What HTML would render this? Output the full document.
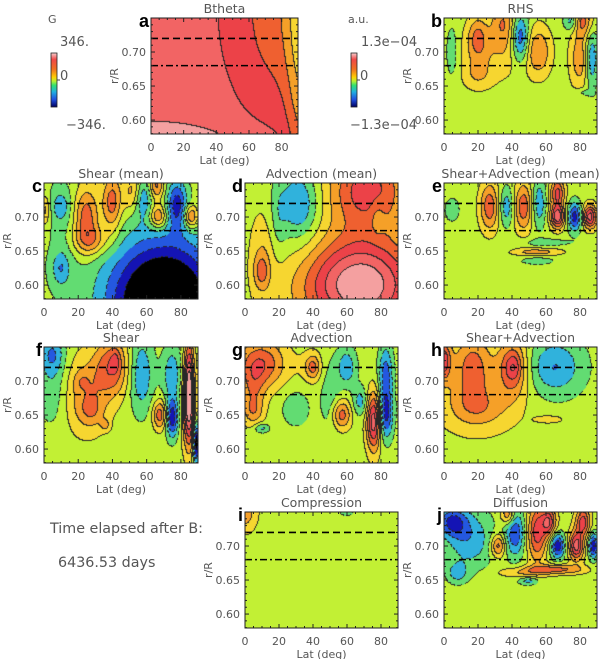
<!DOCTYPE html>
<html><head><meta charset="utf-8">
<style>
html,body{margin:0;padding:0;background:#fff;}
#root{position:relative;width:600px;height:659px;overflow:hidden;font-family:"Liberation Sans",sans-serif;}
canvas{position:absolute;}
svg{position:absolute;left:0;top:0;}
.t{fill:#555;font-size:12.5px;font-family:"DejaVu Sans","Liberation Sans",sans-serif;}
.cbt{fill:#555;font-size:13px;font-family:"DejaVu Sans","Liberation Sans",sans-serif;}
.big{fill:#555;font-size:14.3px;font-family:"DejaVu Sans","Liberation Sans",sans-serif;}
.tk{fill:#555;font-size:11px;font-family:"DejaVu Sans","Liberation Sans",sans-serif;}
.lb{fill:#000;font-size:18px;font-weight:bold;font-family:"Liberation Sans",sans-serif;}
</style></head><body>
<div id="root">
<svg id="ov" width="600" height="659"></svg>
</div>
<script>
// Data: blobs as [lat(deg), r/R, sigmaLat, sigmaR, amplitude(levels)]
const latTicks=[0,20,40,60,80];
const rTicks=[0.60,0.65,0.70];
const rMin=0.5795, rMax=0.75;
const dashedR=0.72, dashDotR=0.68;
const colorLevels=[-5,-4,-3,-2,-1,0,1,2,3,4,5,6];
const levelColors=["#000000","#1414b4","#2458e0","#30b2dc","#62dc72","#c2f034","#f6d630","#f5a028","#ef6030","#ec4248","#f26464","#f4a0a0"];

const bthetaBase=5.2;
const bthetaBlobs=[[0,0.565,40,0.02,1.2],[90,0.76,30,0.12,-2.6],[92,0.70,6,0.2,-2]];
const rhsBlobs=[[5,0.70,3,0.03,-1.3],[30,0.70,16,0.03,1.2],[20,0.72,4,0.022,2.3],[20,0.665,6,0.015,1.2],
 [35,0.745,5,0.025,2.2],[45,0.72,3.5,0.025,-3.7],[56,0.70,5,0.025,2.2],[75,0.745,3,0.01,-2.2],
 [80,0.69,4,0.03,2.2],[82,0.745,4,0.015,2.6],[87,0.69,2.5,0.03,-2.5],[82,0.64,4,0.004,-1]];
const shearMeanBlobs=[[1,0.71,2,0.015,2],[10,0.715,6,0.03,-1.2],[10,0.715,3,0.012,-1.2],[10,0.625,6,0.03,-1.2],[10,0.625,3,0.015,-1.2],
 [25,0.70,5,0.03,3.2],[28,0.665,7,0.015,2.2],[40,0.72,4,0.03,3.2],[53,0.735,4,0.02,3],[66,0.745,3,0.015,3],
 [67,0.70,3.5,0.012,3.4],[86,0.70,3,0.012,3.4],[70,0.575,23,0.065,-7.5],[57,0.73,4,0.02,-3],[78,0.72,4,0.025,-3.5]];
const advMeanBlobs=[[10,0.64,5,0.05,1.3],[10,0.62,3,0.016,1.8],[32,0.71,10,0.05,-1.3],[32,0.72,7,0.03,-1.4],
 [68,0.60,24,0.05,6.5],[72,0.74,16,0.04,4],[78,0.70,3,0.02,-0.9],[20,0.70,3,0.04,-0.8]];
const shadvMeanBlobs=[[5,0.71,3,0.012,-1.3],[27,0.715,4,0.025,3.2],[47,0.715,4,0.025,3.2],[37,0.715,3,0.02,-2.3],
 [56,0.72,3,0.025,-2.4],[67,0.70,3,0.012,5.2],[67,0.735,3,0.015,3.8],[77,0.70,3,0.015,-4],[86,0.70,3,0.012,5],
 [55,0.648,10,0.004,2],[60,0.662,10,0.004,-1.2],[55,0.635,7,0.004,-1.2]];
const shearBlobs=[[5,0.74,5,0.02,-2.2],[5,0.69,6,0.04,-1.3],[25,0.68,9,0.04,2.1],[28,0.655,5,0.015,1.2],[22,0.70,3,0.01,0.8],
 [40,0.72,7,0.03,3.2],[42,0.73,2,0.012,1.2],[36,0.635,2,0.006,1.5],[57,0.71,5,0.04,-2.4],[68,0.65,3,0.015,3.2],
 [75,0.645,2.5,0.02,-4.2],[85,0.655,2.5,0.04,5],[85,0.71,2,0.04,4],[75,0.71,4,0.03,-2.2],[89,0.61,1.2,0.02,-6]];
const advBlobs=[[10,0.725,10,0.025,3.3],[5,0.68,5,0.03,2],[5,0.655,4,0.012,1.2],[40,0.72,3,0.012,2.2],[40,0.72,6,0.02,0.8],
 [50,0.68,4,0.04,-1.2],[60,0.72,4,0.02,-2.3],[68,0.67,3,0.015,-2],[57,0.65,4,0.015,3],[76,0.64,3,0.03,5.2],
 [83,0.65,3,0.025,-3.8],[83,0.71,3,0.03,-3],[30,0.66,6,0.02,-1.2],[10,0.63,3,0.005,-2]];
const shadvBlobs=[[0,0.73,3,0.02,3.8],[17,0.72,7,0.035,2.2],[20,0.66,12,0.02,1.4],[20,0.69,20,0.05,1.2],
 [41,0.72,3,0.012,1.2],[41,0.72,6,0.03,3.2],[65,0.72,14,0.035,-1.3],[65,0.72,10,0.025,-1.3],[62,0.643,6,0.004,1.3]];
const comprBlobs=[[0,0.75,5,0.02,2.2],[60,0.75,3,0.005,-1]];
const diffBlobs=[[5,0.735,6,0.015,-3.3],[15,0.71,10,0.03,-2.3],[8,0.66,4,0.01,-2],[32,0.70,3,0.012,3.2],
 [42,0.72,4,0.025,-3.4],[38,0.745,3,0.01,3],[55,0.72,4,0.03,4],[62,0.735,3,0.015,4],[67,0.70,3,0.013,-4.3],
 [78,0.70,3,0.015,5],[82,0.735,3,0.015,4],[88,0.70,2,0.013,-4.3],[65,0.665,12,0.005,3],[45,0.66,10,0.005,1.3],
 [50,0.648,4,0.004,-2]];

const panels=[
 {id:"a",title:"Btheta",x0:151,x1:298,y0:18,y1:134,base:bthetaBase,blobs:bthetaBlobs},
 {id:"b",title:"RHS",x0:444,x1:597,y0:18,y1:134,base:0,blobs:rhsBlobs},
 {id:"c",title:"Shear (mean)",x0:44,x1:198,y0:183,y1:299,base:0,blobs:shearMeanBlobs},
 {id:"d",title:"Advection (mean)",x0:245,x1:398,y0:183,y1:299,base:0,blobs:advMeanBlobs},
 {id:"e",title:"Shear+Advection (mean)",x0:444,x1:597,y0:183,y1:299,base:0,blobs:shadvMeanBlobs},
 {id:"f",title:"Shear",x0:44,x1:198,y0:347,y1:463,base:0,blobs:shearBlobs},
 {id:"g",title:"Advection",x0:245,x1:398,y0:347,y1:463,base:0,blobs:advBlobs},
 {id:"h",title:"Shear+Advection",x0:444,x1:597,y0:347,y1:463,base:0,blobs:shadvBlobs},
 {id:"i",title:"Compression",x0:245,x1:398,y0:512,y1:628,base:0,blobs:comprBlobs},
 {id:"j",title:"Diffusion",x0:444,x1:597,y0:512,y1:628,base:0,blobs:diffBlobs}
];
const root=document.getElementById('root');
const ov=document.getElementById('ov');
const NS="http://www.w3.org/2000/svg";
function hex(c){return [parseInt(c.slice(1,3),16),parseInt(c.slice(3,5),16),parseInt(c.slice(5,7),16)];}
const rgb=levelColors.map(hex);
function mk(tag,attrs,parent){const e=document.createElementNS(NS,tag);for(const k in attrs)e.setAttribute(k,attrs[k]);(parent||ov).appendChild(e);return e;}

panels.forEach(p=>{
 const W=p.x1-p.x0,H=p.y1-p.y0;
 const xs=lat=>p.x0+lat/90*W;
 const ys=r=>p.y0+(rMax-r)/(rMax-rMin)*H;
 const cv=document.createElement('canvas');
 cv.width=W;cv.height=H;cv.style.left=p.x0+'px';cv.style.top=p.y0+'px';
 
 
 root.insertBefore(cv,ov);
 const ctx=cv.getContext('2d');const img=ctx.createImageData(W,H);
 const lv=new Int8Array(W*H);
 for(let j=0;j<H;j++){const r=rMax-(j+0.5)/H*(rMax-rMin);
  for(let i=0;i<W;i++){const lat=(i+0.5)/W*90;let v=p.base;
   for(const b of p.blobs){const dx=(lat-b[0])/b[2],dy=(r-b[1])/b[3];v+=b[4]*Math.exp(-0.5*(dx*dx+dy*dy));}
   let k=Math.sign(v)*Math.floor(Math.abs(v)+0.5);k=Math.max(-5,Math.min(6,k));lv[j*W+i]=k;}}
 for(let j=0;j<H;j++)for(let i=0;i<W;i++){const k=lv[j*W+i];let c=rgb[k+5];
  const edge=(i<W-1&&lv[j*W+i+1]!==k)||(j<H-1&&lv[(j+1)*W+i]!==k);
  if(edge&&k!==-5){c=k<0&&((i+j)%6<2)?c:[40,40,40];}
  const o=(j*W+i)*4;img.data[o]=c[0];img.data[o+1]=c[1];img.data[o+2]=c[2];img.data[o+3]=255;}
 ctx.putImageData(img,0,0);

 const g=mk('g',{});
 
 
 const fr=mk('rect',{x:p.x0,y:p.y0,width:W,height:H,fill:'none',stroke:'#222','stroke-width':1},g);
 
 
 const l1=mk('line',{x1:p.x0,x2:p.x1,y1:ys(dashedR),y2:ys(dashedR),stroke:'#000','stroke-width':1.6,'stroke-dasharray':'7,4'},g);
 
 
 const l2=mk('line',{x1:p.x0,x2:p.x1,y1:ys(dashDotR),y2:ys(dashDotR),stroke:'#000','stroke-width':1.6,'stroke-dasharray':'7,3,2,3'},g);
 
 
 for(let lat=0;lat<=90;lat+=5){const maj=lat%20===0,len=maj?4:2;
  mk('line',{x1:xs(lat),x2:xs(lat),y1:p.y1,y2:p.y1-len,stroke:'#222'},g);
  mk('line',{x1:xs(lat),x2:xs(lat),y1:p.y0,y2:p.y0+len,stroke:'#222'},g);}
 for(let r=0.58;r<=0.75;r+=0.01){const rr=Math.round(r*100)/100;const maj=Math.round(rr*100)%5===0,len=maj?4:2;
  mk('line',{x1:p.x0,x2:p.x0+len,y1:ys(rr),y2:ys(rr),stroke:'#222'},g);
  mk('line',{x1:p.x1,x2:p.x1-len,y1:ys(rr),y2:ys(rr),stroke:'#222'},g);}
 latTicks.forEach(t=>{const e=mk('text',{x:xs(t),y:p.y1+17,'text-anchor':'middle',class:'tk'},g);e.textContent=t;
  
  });
 rTicks.forEach(t=>{const e=mk('text',{x:p.x0-5,y:ys(t)+4,'text-anchor':'end',class:'tk'},g);e.textContent=t.toFixed(2);
  
  });
 const xt=mk('text',{x:(p.x0+p.x1)/2,y:p.y1+30,'text-anchor':'middle',class:'tk'},g);xt.textContent='Lat (deg)';
 
 
 const yc=(p.y0+p.y1)/2;
 const yt=mk('text',{x:p.x0-33,y:yc,'text-anchor':'middle',class:'tk',transform:`rotate(-90 ${p.x0-33} ${yc})`},g);yt.textContent='r/R';
 
 
 const tt=mk('text',{x:(p.x0+p.x1)/2,y:p.y0-5,'text-anchor':'middle',class:'t'},g);tt.textContent=p.title;
 
 
 const lb=mk('text',{x:p.x0-2,y:p.y0+9,'text-anchor':'end',class:'lb'},g);lb.textContent=p.id;
 
 
});

// colorbars
const defs=mk('defs',{});
const gr=mk('linearGradient',{id:'cb',x1:0,y1:0,x2:0,y2:1},defs);
[["0","#f8d0d0"],["0.12","#f04848"],["0.3","#f07020"],["0.45","#ffd000"],["0.52","#b8f030"],["0.6","#30e070"],["0.72","#20b0e0"],["0.86","#2050e0"],["1","#000060"]].forEach(s=>mk('stop',{offset:s[0],'stop-color':s[1]},gr));
[{x:51,u:'G',hi:'346.',lo:'\u2212346.',hx:60,lx:66,n:'btheta'},{x:351,u:'a.u.',hi:'1.3e\u221204',lo:'\u22121.3e\u221204',hx:361,lx:350,n:'terms'}].forEach(c=>{
 const g=mk('g',{});
 
 
 mk('rect',{x:c.x,y:53,width:6,height:54,fill:'url(#cb)',stroke:'#222','stroke-width':0.8},g);
 mk('line',{x1:c.x+6,x2:c.x+9,y1:80,y2:80,stroke:'#444'},g);
 const z=mk('text',{x:c.x+9,y:80,class:'cbt'},g);z.textContent='0';
 const u=mk('text',{x:c.x-3,y:23,class:'tk'},g);u.textContent=c.u;
 const hi=mk('text',{x:c.hx,y:46,class:'cbt'},g);hi.textContent=c.hi;
 const lo=mk('text',{x:c.lx,y:129,class:'cbt'},g);lo.textContent=c.lo;
});
const ta=mk('text',{x:50,y:533,class:'big'});ta.textContent='Time elapsed after B:';


const tb=mk('text',{x:58,y:567,class:'big'});tb.textContent='6436.53 days';


</script>
</body></html>
